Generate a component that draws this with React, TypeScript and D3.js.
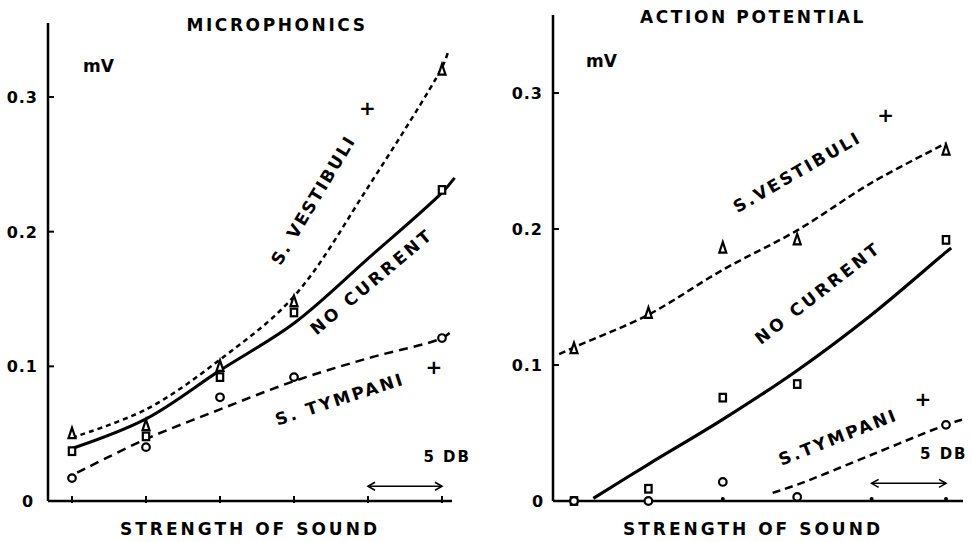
import React from "react";
import * as d3 from "d3";

// sound steps (5 dB apart) on the x axis
const steps = [0, 1, 2, 3, 4, 5];
const yTicks = [0, 0.1, 0.2, 0.3];
const yTickLabels = ["0", "0.1", "0.2", "0.3"];

// ---- MICROPHONICS: measured points ----
const micPtX = [0, 1, 2, 3, 5];
const micVestibuli = [0.05, 0.056, 0.1, 0.148, 0.32];
const micNoCurrent = [0.037, 0.048, 0.092, 0.14, 0.231];
const micTympani = [0.017, 0.04, 0.077, 0.092, 0.121];

// fitted curves
const micVestFitX = [0, 1, 2, 3, 4, 5, 5.08];
const micVestFit = [0.047, 0.068, 0.105, 0.152, 0.233, 0.322, 0.333];
const micNoCurFitX = [0, 1, 2, 3, 4, 5, 5.17];
const micNoCurFit = [0.039, 0.061, 0.097, 0.132, 0.18, 0.229, 0.24];
const micTympFitX = [0.07, 1, 2, 3, 4, 5, 5.15];
const micTympFit = [0.021, 0.046, 0.068, 0.089, 0.106, 0.121, 0.127];

// ---- ACTION POTENTIAL: measured points ----
const apPtX = [0, 1, 2, 3, 5];
const apVestibuli = [0.112, 0.138, 0.186, 0.192, 0.258];
const apNoCurrent = [0, 0.009, 0.076, 0.086, 0.192];
const apTympani = [0, 0, 0.014, 0.003, 0.056];

const apVestFitX = [-0.2, 0, 1, 2, 3, 4, 5];
const apVestFit = [0.108, 0.113, 0.137, 0.17, 0.199, 0.234, 0.263];
const apNoCurFitX = [0.26, 1, 2, 3, 4, 5, 5.07];
const apNoCurFit = [0.002, 0.027, 0.06, 0.096, 0.137, 0.183, 0.186];
const apTympFitX = [2.67, 3, 4, 5, 5.23];
const apTympFit = [0.006, 0.012, 0.034, 0.056, 0.06];

const FONT = "DejaVu Sans, sans-serif";

type Series = { px: number[]; pv: number[]; fx: number[]; fv: number[]; marker: string; dash: string | null; width: number };
type Label = { text: string; x: number; v: number; angle: number; ls: number };

type PanelProps = {
  title: string;
  titleX: number;
  titleY: number;
  axisX: number;
  axisTop: number;
  xRange: [number, number];
  yRange: [number, number];
  axisRight: number;
  series: Series[];
  labels: Label[];
  pluses: { x: number; v: number }[];
  dbX: number;
  dbV: number;
  arrowV: number;
  tickStyle: "line" | "dot";
  mvX: number;
  mvY: number;
  zeroOffset: number;
};

const Marker = ({ kind, cx, cy }: { kind: string; cx: number; cy: number }) => {
  if (kind === "tri")
    return <path d={`M${cx},${cy - 6}L${cx - 3.5},${cy + 4.5}L${cx + 3.5},${cy + 4.5}Z`} fill="#fff" stroke="#000" strokeWidth={2.2} />;
  if (kind === "sq")
    return <rect x={cx - 3.2} y={cy - 3.8} width={6.4} height={7.6} fill="#fff" stroke="#000" strokeWidth={2.2} />;
  return <circle cx={cx} cy={cy} r={3.8} fill="#fff" stroke="#000" strokeWidth={2.2} />;
};

const Panel = (p: PanelProps) => {
  const x = d3.scaleLinear().domain([0, 5]).range(p.xRange);
  const y = d3.scaleLinear().domain([0, 0.3]).range(p.yRange);
  const line = d3
    .line<[number, number]>()
    .x((d) => x(d[0]))
    .y((d) => y(d[1]))
    .curve(d3.curveCatmullRom.alpha(0.5));
  const y0 = y(0);

  return (
    <g>
      <text x={p.titleX} y={p.titleY} textAnchor="middle" fontFamily={FONT} fontSize={17} fontWeight="bold" letterSpacing={2.6}>
        {p.title}
      </text>
      <text x={p.mvX} y={p.mvY} fontFamily={FONT} fontSize={17} fontWeight="bold">
        mV
      </text>

      {/* axes */}
      <line x1={p.axisX} x2={p.axisX} y1={p.axisTop} y2={y0} stroke="#000" strokeWidth={2.5} />
      <line x1={p.axisX} x2={p.axisRight} y1={y0} y2={y0} stroke="#000" strokeWidth={2.5} />
      {yTicks.map((t, i) => (
        <g key={t}>
          {t > 0 && <line x1={p.axisX} x2={p.axisX + 6} y1={y(t)} y2={y(t)} stroke="#000" strokeWidth={2} />}
          <text
            x={t > 0 ? p.axisX - 10 : p.axisX - p.zeroOffset}
            y={y(t) + 6}
            textAnchor={t > 0 ? "end" : "middle"}
            fontFamily={FONT}
            fontSize={16}
            fontWeight="bold"
            letterSpacing={1}
          >
            {yTickLabels[i]}
          </text>
        </g>
      ))}
      {steps.map((s) =>
        p.tickStyle === "line" ? (
          <line key={s} x1={x(s)} x2={x(s)} y1={y0 - 5} y2={y0 + 2} stroke="#000" strokeWidth={2} />
        ) : (
          <circle key={s} cx={x(s)} cy={y0 - 2} r={2} fill="#000" />
        )
      )}

      {/* fitted curves */}
      {p.series.map((s, i) => (
        <path
          key={"c" + i}
          d={line(s.fx.map((v, j) => [v, s.fv[j]] as [number, number])) || ""}
          fill="none"
          stroke="#000"
          strokeWidth={s.width}
          strokeDasharray={s.dash || undefined}
        />
      ))}

      {/* measured points */}
      {p.series.map((s, i) =>
        s.px.map((v, j) => <Marker key={`m${i}-${j}`} kind={s.marker} cx={x(v)} cy={y(s.pv[j])} />)
      )}

      {/* curve labels */}
      {p.labels.map((l) => (
        <text
          key={l.text}
          transform={`translate(${x(l.x)},${y(l.v)}) rotate(${l.angle})`}
          textAnchor="middle"
          dominantBaseline="central"
          fontFamily={FONT}
          fontSize={17}
          fontWeight="bold"
          letterSpacing={l.ls}
        >
          {l.text}
        </text>
      ))}
      {p.pluses.map((q, i) => (
        <text key={"p" + i} x={x(q.x)} y={y(q.v)} textAnchor="middle" dominantBaseline="central" fontFamily={FONT} fontSize={20} fontWeight="bold">
          +
        </text>
      ))}

      {/* 5 DB scale */}
      <text x={x(p.dbX)} y={y(p.dbV)} textAnchor="middle" fontFamily={FONT} fontSize={15} fontWeight="bold" letterSpacing={2}>
        5 DB
      </text>
      <line x1={x(4)} x2={x(5)} y1={y(p.arrowV)} y2={y(p.arrowV)} stroke="#000" strokeWidth={1.6} />
      <path
        d={`M${x(4) + 7},${y(p.arrowV) - 4}L${x(4)},${y(p.arrowV)}L${x(4) + 7},${y(p.arrowV) + 4}M${x(5) - 7},${y(p.arrowV) - 4}L${x(5)},${y(p.arrowV)}L${x(5) - 7},${y(p.arrowV) + 4}`}
        fill="none"
        stroke="#000"
        strokeWidth={1.6}
      />

      <text x={(p.xRange[0] + p.xRange[1]) / 2 - 7} y={535} textAnchor="middle" fontFamily={FONT} fontSize={17} fontWeight="bold" letterSpacing={3}>
        STRENGTH OF SOUND
      </text>
    </g>
  );
};

export default function App() {
  const mic: Series[] = [
    { px: micPtX, pv: micVestibuli, fx: micVestFitX, fv: micVestFit, marker: "tri", dash: "5 4", width: 2.5 },
    { px: micPtX, pv: micNoCurrent, fx: micNoCurFitX, fv: micNoCurFit, marker: "sq", dash: null, width: 3 },
    { px: micPtX, pv: micTympani, fx: micTympFitX, fv: micTympFit, marker: "circ", dash: "9 6", width: 2.5 },
  ];
  const ap: Series[] = [
    { px: apPtX, pv: apVestibuli, fx: apVestFitX, fv: apVestFit, marker: "tri", dash: "7 4", width: 2.5 },
    { px: apPtX, pv: apNoCurrent, fx: apNoCurFitX, fv: apNoCurFit, marker: "sq", dash: null, width: 3.2 },
    { px: apPtX, pv: apTympani, fx: apTympFitX, fv: apTympFit, marker: "circ", dash: "8 5", width: 2.5 },
  ];

  return (
    <svg width={972} height={542} style={{ position: "absolute", left: 0, top: 0, background: "#fff" }}>
      <Panel
        title="MICROPHONICS"
        titleX={277}
        titleY={31}
        axisX={48}
        axisTop={23}
        axisRight={452}
        xRange={[72, 442]}
        yRange={[501, 97]}
        series={mic}
        labels={[
          { text: "S. VESTIBULI", x: 3.26, v: 0.2235, angle: -59, ls: 2 },
          { text: "NO CURRENT", x: 4.05, v: 0.163, angle: -40, ls: 3 },
          { text: "S. TYMPANI", x: 3.62, v: 0.0757, angle: -18, ls: 2.5 },
        ]}
        pluses={[
          { x: 3.99, v: 0.292 },
          { x: 4.89, v: 0.0995 },
        ]}
        dbX={5.07}
        dbV={0.029}
        arrowV={0.011}
        tickStyle="line"
        mvX={83}
        mvY={72}
        zeroOffset={20}
      />
      <Panel
        title="ACTION POTENTIAL"
        titleX={753}
        titleY={23}
        axisX={553}
        axisTop={15}
        axisRight={963}
        xRange={[574, 946]}
        yRange={[501, 93]}
        series={ap}
        labels={[
          { text: "S.VESTIBULI", x: 3.0, v: 0.242, angle: -30, ls: 2.5 },
          { text: "NO CURRENT", x: 3.28, v: 0.153, angle: -38, ls: 3 },
          { text: "S.TYMPANI", x: 3.55, v: 0.047, angle: -21.5, ls: 2.5 },
        ]}
        pluses={[
          { x: 4.19, v: 0.284 },
          { x: 4.69, v: 0.075 },
        ]}
        dbX={4.97}
        dbV={0.031}
        arrowV={0.013}
        tickStyle="dot"
        mvX={586}
        mvY={67}
        zeroOffset={15}
      />
    </svg>
  );
}
